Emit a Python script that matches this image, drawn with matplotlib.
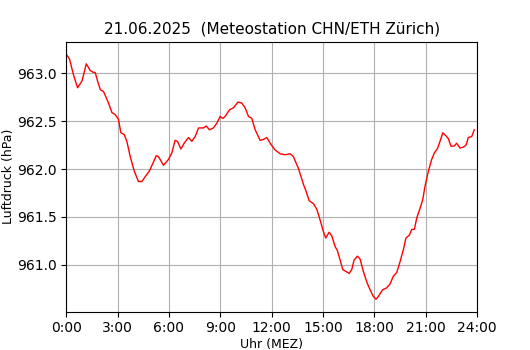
"""
Luftdruck-Tagesverlauf, Meteostation CHN/ETH Zuerich
"""
import matplotlib
matplotlib.use('Agg')
import matplotlib.pyplot as plt

# Zeit in Stunden (MEZ) und Luftdruck in hPa
stunden = [0.00, 0.19, 0.43, 0.66, 0.92, 1.17, 1.40, 1.59, 1.69, 1.83,
           1.99, 2.18, 2.47, 2.67, 2.86, 3.05, 3.19, 3.39, 3.54, 3.74,
           3.97, 4.22, 4.42, 4.61, 4.86, 5.06, 5.26, 5.39, 5.68, 5.97,
           6.17, 6.36, 6.50, 6.70, 6.89, 7.14, 7.34, 7.53, 7.73, 8.02,
           8.18, 8.37, 8.60, 8.80, 8.99, 9.15, 9.28, 9.54, 9.77, 10.03,
           10.26, 10.45, 10.65, 10.84, 11.04, 11.33, 11.52, 11.72, 11.95, 12.20,
           12.50, 12.79, 13.08, 13.27, 13.56, 13.86, 14.01, 14.19, 14.44, 14.64,
           14.83, 15.02, 15.16, 15.36, 15.52, 15.71, 15.84, 16.00, 16.16, 16.35,
           16.53, 16.68, 16.82, 17.01, 17.17, 17.36, 17.56, 17.75, 17.94, 18.10,
           18.24, 18.49, 18.73, 18.92, 19.11, 19.31, 19.50, 19.70, 19.85, 20.05,
           20.19, 20.34, 20.48, 20.67, 20.83, 20.96, 21.16, 21.35, 21.51, 21.68,
           21.84, 22.00, 22.17, 22.32, 22.48, 22.66, 22.81, 23.01, 23.20, 23.36,
           23.49, 23.69, 23.84]
druck = [963.20, 963.15, 962.98, 962.85, 962.92, 963.10, 963.03, 963.01, 963.01, 962.92,
         962.83, 962.81, 962.69, 962.59, 962.57, 962.52, 962.38, 962.36, 962.29, 962.13,
         961.98, 961.87, 961.87, 961.92, 961.98, 962.06, 962.14, 962.13, 962.04, 962.10,
         962.17, 962.30, 962.29, 962.21, 962.27, 962.33, 962.29, 962.34, 962.43, 962.43,
         962.45, 962.41, 962.43, 962.48, 962.55, 962.53, 962.55, 962.62, 962.64, 962.70,
         962.69, 962.64, 962.55, 962.53, 962.41, 962.30, 962.31, 962.33, 962.26, 962.20,
         962.16, 962.15, 962.16, 962.13, 962.01, 961.84, 961.77, 961.67, 961.64, 961.58,
         961.47, 961.35, 961.28, 961.34, 961.30, 961.19, 961.15, 961.05, 960.95, 960.93,
         960.91, 960.95, 961.05, 961.09, 961.06, 960.93, 960.82, 960.74, 960.67, 960.64,
         960.67, 960.74, 960.76, 960.80, 960.88, 960.92, 961.03, 961.16, 961.28, 961.31,
         961.37, 961.37, 961.49, 961.59, 961.68, 961.82, 961.98, 962.10, 962.17, 962.21,
         962.29, 962.38, 962.35, 962.32, 962.24, 962.24, 962.27, 962.22, 962.23, 962.25,
         962.33, 962.34, 962.41]

xticks = [0, 3, 6, 9, 12, 15, 18, 21, 24]
xlabels = ['0:00', '3:00', '6:00', '9:00', '12:00', '15:00', '18:00', '21:00', '24:00']

fig, ax = plt.subplots(figsize=(5.3, 3.5), dpi=100)
ax.plot(stunden, druck, color='red', linewidth=1)
ax.set_xlim(0, 24)
ax.set_xticks(xticks)
ax.set_xticklabels(xlabels)
ax.set_xlabel('Uhr (MEZ)', fontsize=9, labelpad=2)
ax.set_ylabel('Luftdruck (hPa)', fontsize=9, labelpad=1)
ax.set_title('21.06.2025  (Meteostation CHN/ETH Zürich)', fontsize=11)
ax.grid(True)
fig.savefig('out.png', dpi=100)
